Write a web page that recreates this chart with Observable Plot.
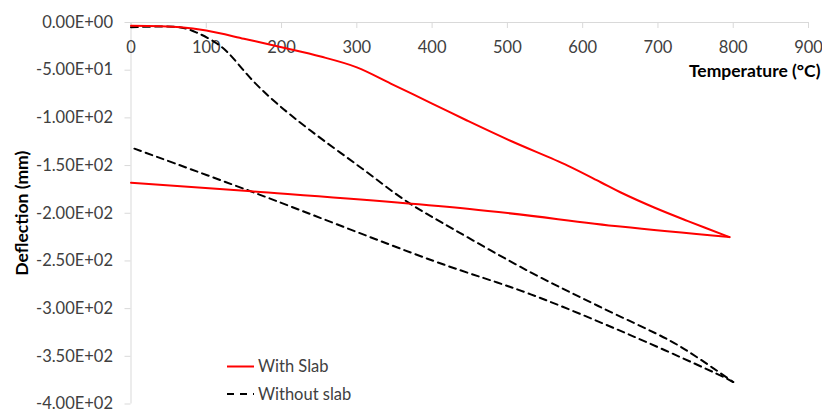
<!DOCTYPE html>
<html><head><meta charset="utf-8">
<script src="https://cdn.jsdelivr.net/npm/d3@7"></script>
<script src="https://cdn.jsdelivr.net/npm/@observablehq/plot@0.6"></script>
<style>body{margin:0;background:#fff;} #chart{width:822px;height:410px;}</style>
</head><body><div id="chart"></div>
<script>
// With slab: heating 0 -> ~800 °C, then cooling back to 0
const withSlabTemp = [0, 66, 100, 150, 200, 252, 300, 345, 400, 447, 504, 580, 624, 650, 695, 739, 795, 650, 450, 160, 0];
const withSlabDefl = [-3.5, -5, -8.5, -17, -26, -35.7, -47, -64, -85, -103, -124, -150, -167.5, -178, -194, -208, -225, -214, -195.5, -177, -168];
const withSlabPhase = ["h","h","h","h","h","h","h","h","h","h","h","h","h","h","h","h","h","c","c","c","c"];
// Without slab
const withoutSlabTemp = [0, 66, 88, 114, 128, 163, 194, 238, 305, 367, 429, 531, 620, 717, 752, 800, 788, 664, 531, 402, 159, 0];
const withoutSlabDefl = [-5, -5.2, -10.8, -22, -31, -62, -85, -113, -152, -188, -217, -262, -297, -334, -351, -377, -372, -328, -285, -250, -177, -131];
const withoutSlabPhase = ["h","h","h","h","h","h","h","h","h","h","h","h","h","h","h","h","c","c","c","c","c","c"];

const xTicks = [0, 100, 200, 300, 400, 500, 600, 700, 800, 900];
const yTicks = [0, -50, -100, -150, -200, -250, -300, -350, -400];
const seriesNames = ["With Slab", "Without slab"];
const xTitle = "Temperature (°C)";
const yTitle = "Deflection (mm)";

function rowsOf(T, D, P) {
  const rows = T.map((t, i) => ({t, d: D[i], phase: P[i]}));
  // the cooling branch starts at the last heating point
  const lastH = rows.filter(r => r.phase === "h").pop();
  return [...rows, {t: lastH.t, d: lastH.d, phase: "c", first: true}];
}
const withSlab = rowsOf(withSlabTemp, withSlabDefl, withSlabPhase);
const withoutSlab = rowsOf(withoutSlabTemp, withoutSlabDefl, withoutSlabPhase);
const heat = rows => rows.filter(r => r.phase === "h");
const cool = rows => { const c = rows.filter(r => r.phase === "c"); const f = c.pop(); return [f, ...c]; };

function sci(v) {
  if (v === 0) return "0.00E+00";
  const [m, e] = v.toExponential(2).split("e");
  const sign = e[0] === "-" ? "-" : "+";
  return m + "E" + sign + String(Math.abs(+e)).padStart(2, "0");
}

const grid = "#d9d9d9";
const textColor = "#404040";
const font = "Lato, sans-serif";

const plot = Plot.plot({
  width: 822, height: 410,
  marginLeft: 130.5, marginRight: 14, marginTop: 22, marginBottom: 6.5,
  style: {fontFamily: font, fontSize: "16.5px", color: textColor, background: "#fff", overflow: "visible"},
  x: {domain: [0, 900]},
  y: {domain: [-400, 0]},
  marks: [
    Plot.ruleX([0], {stroke: grid}),
    Plot.ruleY([0], {stroke: grid}),
    Plot.ruleX(xTicks, {x: d => d, y1: 0, y2: 0, insetBottom: -6, stroke: grid}),
    Plot.ruleY(yTicks, {y: d => d, x1: 0, x2: 0, insetLeft: -6, stroke: grid}),
    Plot.axisX(xTicks, {anchor: "top", tickSize: 0, tickPadding: -25, lineAnchor: "middle", label: null, fill: textColor}),
    Plot.axisY(yTicks, {anchor: "left", tickSize: 0, tickPadding: 18, tickFormat: sci, label: null, fill: textColor}),
    Plot.line(heat(withoutSlab), {x: "t", y: "d", stroke: "#000", strokeWidth: 2, strokeDasharray: "7,5", curve: "catmull-rom"}),
    Plot.line(cool(withoutSlab), {x: "t", y: "d", stroke: "#000", strokeWidth: 2, strokeDasharray: "7,5", curve: "catmull-rom"}),
    Plot.line(heat(withSlab), {x: "t", y: "d", stroke: "#ff0000", strokeWidth: 2, curve: "catmull-rom"}),
    Plot.line(cool(withSlab), {x: "t", y: "d", stroke: "#ff0000", strokeWidth: 2, curve: "catmull-rom"}),
    Plot.text([xTitle], {frameAnchor: "top-right", textAnchor: "end", lineAnchor: "middle", dx: 12, dy: 48.5, fontWeight: "bold", fill: "#000", fontSize: 17.5}),
    Plot.text([yTitle], {frameAnchor: "left", rotate: -90, textAnchor: "middle", lineAnchor: "middle", dx: -108.5, fontWeight: "bold", fill: "#000", fontSize: 17.5})
  ]
});

// legend inside plot area
const svg = d3.select(plot);
const leg = svg.append("g").attr("font-family", font).attr("font-size", 16.5).attr("text-anchor", "start");
const legendItems = [
  {name: seriesNames[0], stroke: "#ff0000", dash: null, y: 366.5},
  {name: seriesNames[1], stroke: "#000", dash: "7,6", y: 394}
];
legendItems.forEach(it => {
  leg.append("line").attr("x1", 227).attr("x2", 254).attr("y1", it.y).attr("y2", it.y)
    .attr("stroke", it.stroke).attr("stroke-width", 2).attr("stroke-dasharray", it.dash);
  leg.append("text").attr("x", 258).attr("y", it.y).attr("dy", "0.35em").attr("fill", textColor).text(it.name);
});

document.getElementById("chart").appendChild(plot);
</script>
</body></html>
